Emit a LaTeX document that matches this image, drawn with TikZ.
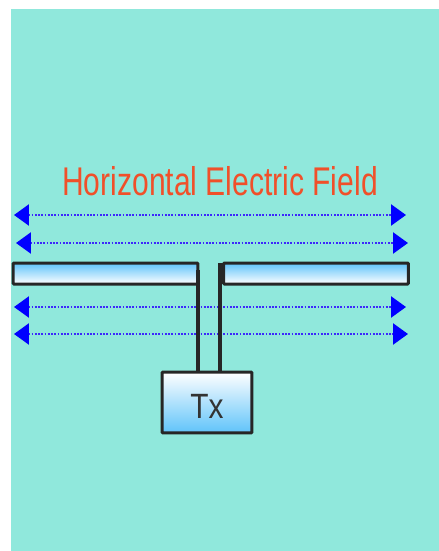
\documentclass[tikz,border=0pt]{standalone}
\usepackage{xcolor}
\usepackage{fontspec}
\setmainfont{Liberation Sans}
\usetikzlibrary{arrows.meta}
\definecolor{Panel}{RGB}{144,232,220}
\definecolor{FieldBlue}{RGB}{60,40,250}
\definecolor{Title}{RGB}{240,80,42}
\definecolor{Metal}{RGB}{95,195,250}
\tikzset{
  rodbox/.style={draw=black!85,line width=0.06cm,rounded corners=0.5pt,inner sep=0pt,
    minimum width=3.7cm,minimum height=0.42cm,top color=Metal,bottom color=white},
  txbox/.style={draw=black!85,line width=0.06cm,rounded corners=0.5pt,inner sep=0pt,
    minimum width=1.8cm,minimum height=1.22cm,top color=white,bottom color=Metal},
  feedline/.style={black!85,line width=0.085cm},
  fieldline/.style={FieldBlue,line width=0.05cm,dash pattern=on 0.035cm off 0.03cm,
    {Triangle[length=0.3cm,width=0.42cm,color=blue]}-{Triangle[length=0.3cm,width=0.42cm,color=blue]}},
}
\newcommand{\FieldLine}[4]{% name xleft xright y
\coordinate (#1w) at (#2,#4);
\coordinate (#1e) at (#3,#4);
\draw[fieldline] (#1w) -- (#1e);
}
\begin{document}
\begin{tikzpicture}[x=0.02cm,y=-0.02cm]
\useasboundingbox (0,0) rectangle (439,551);
\fill[Panel] (11,9) rectangle (439,551);
\node[Title,font=\fontsize{22.8}{24}\selectfont,xscale=0.75] (title) at (220,181) {Horizontal Electric Field};
% field lines above the dipole
\FieldLine{fa}{14}{406}{215}
\FieldLine{fb}{16}{408}{243}
% field lines below the dipole
\FieldLine{fc}{14}{406}{307}
\FieldLine{fd}{14}{408}{334}
% dipole arms
\node[rodbox] (rodl) at (105.5,273.5) {};
\node[rodbox] (rodr) at (316,273.5) {};
\node[txbox] (tx) at (207,402.5) {};
\node[black!80,font=\fontsize{20}{22}\selectfont,xscale=0.85] (txlabel) at (207,406) {Tx};
% feed
\coordinate (feedl) at (198,270);
\coordinate (feedr) at (220,263);
\draw[feedline] (feedl) -- (feedl |- tx.north);
\draw[feedline] (feedr) -- (feedr |- tx.north);
\end{tikzpicture}
\end{document}
